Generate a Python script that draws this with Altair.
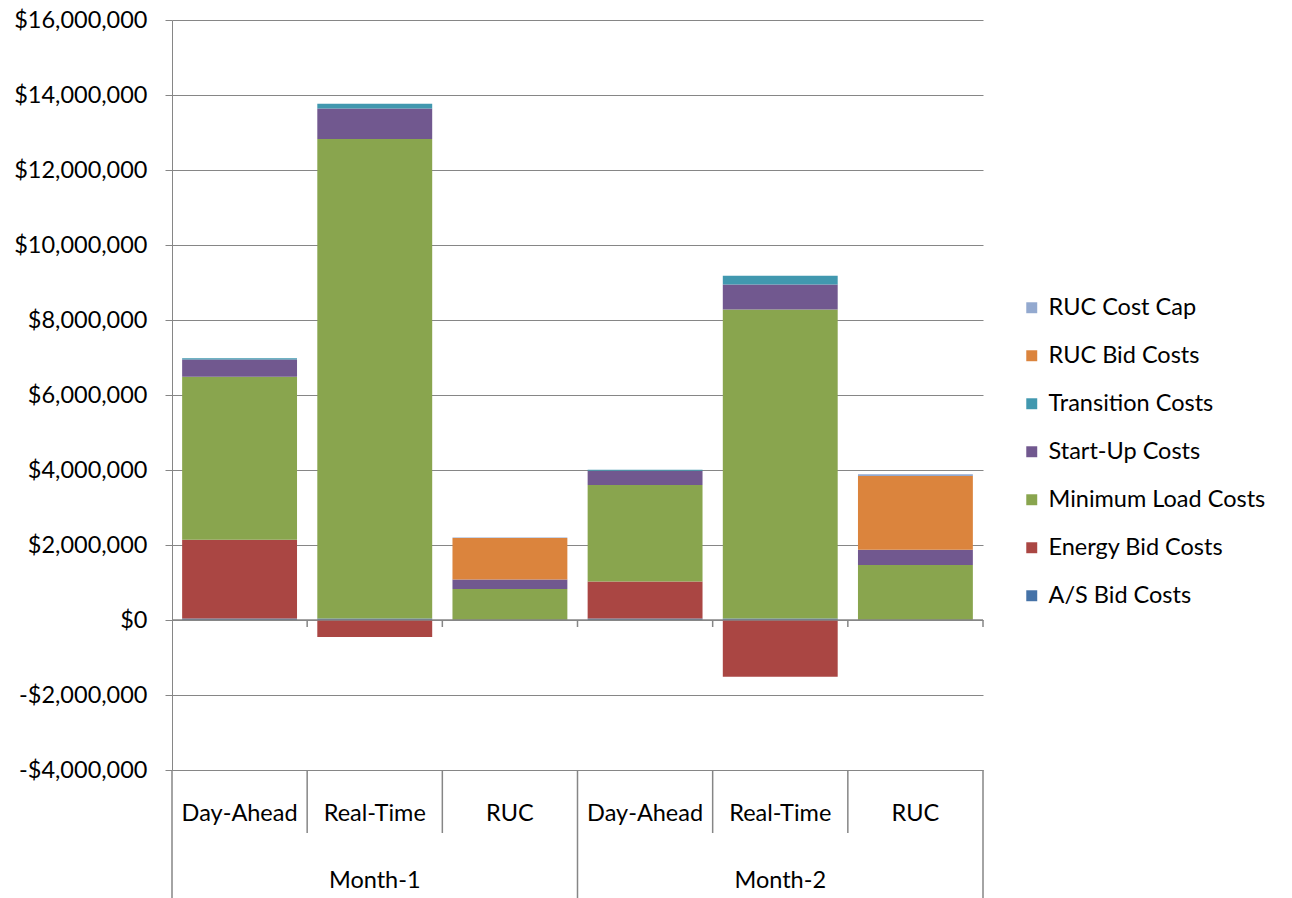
import altair as alt
import pandas as pd

months = ["Month-1", "Month-2"]
markets = ["Day-Ahead", "Real-Time", "RUC"]
series = ["A/S Bid Costs", "Energy Bid Costs", "Minimum Load Costs", "Start-Up Costs",
          "Transition Costs", "RUC Bid Costs", "RUC Cost Cap"]
legend_order = list(reversed(series))
colors = ["#4572A7", "#AA4643", "#89A54E", "#71588F", "#4198AF", "#DB843D", "#93A9CF"]

# values per bar: M1 DA, M1 RT, M1 RUC, M2 DA, M2 RT, M2 RUC
as_bid = [40000, 40000, 0, 40000, 40000, 0]
energy_bid = [2100000, -450000, 0, 990000, -1510000, 0]
min_load = [4350000, 12790000, 830000, 2570000, 8240000, 1470000]
start_up = [460000, 810000, 250000, 380000, 670000, 405000]
transition = [30000, 130000, 0, 30000, 230000, 0]
ruc_bid = [0, 0, 1110000, 0, 0, 1965000]
ruc_cap = [0, 0, 10000, 0, 0, 50000]

y_ticks = [-4000000, -2000000, 0, 2000000, 4000000, 6000000, 8000000,
           10000000, 12000000, 14000000, 16000000]

FONT = "Lato"
FS = 23.5
GRID = "#868686"

keys = [f"{m}|{k}" for m in months for k in markets]
values = [as_bid, energy_bid, min_load, start_up, transition, ruc_bid, ruc_cap]

rows = []
for si, s in enumerate(series):
    for ki, key in enumerate(keys):
        rows.append({"key": key, "series": s, "order": si, "value": values[si][ki]})
df = pd.DataFrame(rows)

xscale = alt.Scale(domain=keys, paddingInner=0, paddingOuter=0)

bars = alt.Chart(df).mark_bar(width=alt.RelativeBandSize(0.85)).encode(
    x=alt.X("key:N", scale=xscale, axis=None),
    y=alt.Y("value:Q", stack="zero",
            scale=alt.Scale(domain=[y_ticks[0], y_ticks[-1]], nice=False),
            axis=alt.Axis(values=y_ticks, title=None, grid=True, gridColor=GRID,
                          domainColor=GRID, tickColor=GRID, tickSize=7,
                          labelPadding=18, labelFontSize=FS, labelFont=FONT,
                          labelColor="#000000",
                          labelExpr="(datum.value < 0 ? '-' : '') + '$' + format(abs(datum.value), ',.0f')")),
    color=alt.Color("series:N",
                    scale=alt.Scale(domain=legend_order,
                                    range=[colors[series.index(s)] for s in legend_order]),
                    legend=alt.Legend(title=None, orient="none", legendX=848, legendY=276,
                                      symbolType="square", symbolSize=120, symbolStrokeWidth=0,
                                      labelFontSize=FS, labelFont=FONT, labelColor="#000000",
                                      labelLimit=0, labelOffset=5, rowPadding=23)),
    order=alt.Order("order:Q"),
)

zero_df = pd.DataFrame({"v": [0]})
zero_line = alt.Chart(zero_df).mark_rule(color=GRID, strokeWidth=1.5).encode(y=alt.datum(0))

keys_df = pd.DataFrame({
    "key": keys,
    "label": [k for m in months for k in markets],
    "group_end": [k == markets[-1] for m in months for k in markets],
})

zero_ticks = alt.Chart(keys_df).mark_rule(color=GRID, strokeWidth=1.5).encode(
    x=alt.X("key:N", bandPosition=1),
    y=alt.value(600), y2=alt.value(607),
)

short_sep = alt.Chart(keys_df[~keys_df["group_end"]]).mark_rule(color=GRID, strokeWidth=1.5).encode(
    x=alt.X("key:N", bandPosition=1),
    y=alt.value(750), y2=alt.value(813),
)

long_sep = alt.Chart(keys_df[keys_df["group_end"]]).mark_rule(color=GRID, strokeWidth=1.5).encode(
    x=alt.X("key:N", bandPosition=1),
    y=alt.value(750), y2=alt.value(878),
)

left_sep = alt.Chart(keys_df.iloc[[0]]).mark_rule(color=GRID, strokeWidth=1.5).encode(
    x=alt.X("key:N", bandPosition=0),
    y=alt.value(750), y2=alt.value(878),
)

sub_labels = alt.Chart(keys_df).mark_text(font=FONT, fontSize=FS, baseline="middle",
                                          align="center", color="#000000").encode(
    x=alt.X("key:N"),
    y=alt.value(794),
    text="label:N",
)

group_df = pd.DataFrame({"key": [f"{m}|{markets[1]}" for m in months], "label": months})
group_labels = alt.Chart(group_df).mark_text(font=FONT, fontSize=FS, baseline="middle",
                                             align="center", color="#000000").encode(
    x=alt.X("key:N"),
    y=alt.value(861),
    text="label:N",
)

chart = alt.layer(
    bars, zero_line, zero_ticks, short_sep, long_sep, left_sep, sub_labels, group_labels
).properties(
    width=811, height=750,
    autosize=alt.AutoSizeParams(type="none"),
    padding={"left": 172, "top": 20, "right": 309, "bottom": 128},
).configure_view(stroke=None)

chart.save("out.html", embed_options={"renderer": "svg", "actions": False})
